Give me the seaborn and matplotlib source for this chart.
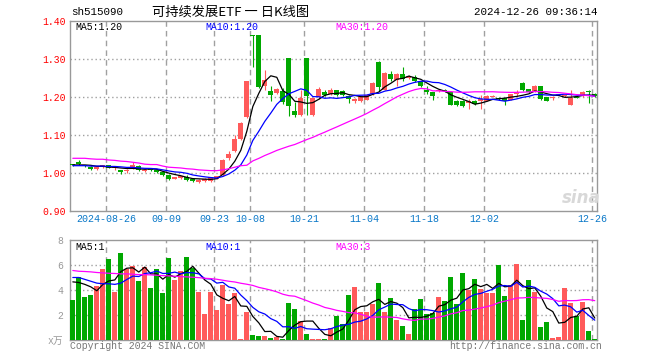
import numpy as np
import pandas as pd
import matplotlib
matplotlib.use('Agg')
import matplotlib.pyplot as plt
import seaborn as sns

# 日K数据 (2024-08-16 ~ 2024-12-26)
open_ = [1.023, 1.031, 1.022, 1.016, 1.012, 1.016, 1.021, 1.013, 1.009, 1.005,
         1.014, 1.020, 1.006, 1.010, 1.010, 1.003, 0.996, 0.986, 0.987, 0.990,
         0.985, 0.977, 0.979, 0.981, 0.986, 0.996, 1.040, 1.058, 1.090, 1.147,
         1.365, 1.365, 1.229, 1.216, 1.211, 1.217, 1.303, 1.164, 1.153, 1.303,
         1.153, 1.202, 1.215, 1.209, 1.218, 1.216, 1.203, 1.191, 1.189, 1.194,
         1.209, 1.293, 1.220, 1.261, 1.246, 1.261, 1.250, 1.253, 1.242, 1.220,
         1.213, 1.216, 1.218, 1.213, 1.191, 1.191, 1.186, 1.191, 1.189, 1.191,
         1.202, 1.199, 1.198, 1.194, 1.210, 1.238, 1.222, 1.216, 1.229, 1.200,
         1.198, 1.207, 1.203, 1.181, 1.201, 1.203, 1.214, 1.209]
close = [1.021, 1.025, 1.019, 1.011, 1.016, 1.021, 1.015, 1.015, 1.003, 1.009,
         1.023, 1.009, 1.009, 1.008, 1.004, 0.996, 0.986, 0.990, 0.992, 0.983,
         0.979, 0.983, 0.986, 0.989, 0.992, 1.036, 1.052, 1.090, 1.132, 1.242,
         1.362, 1.226, 1.246, 1.207, 1.222, 1.187, 1.178, 1.154, 1.198, 1.203,
         1.197, 1.222, 1.206, 1.219, 1.207, 1.207, 1.196, 1.196, 1.202, 1.207,
         1.238, 1.226, 1.264, 1.249, 1.261, 1.249, 1.256, 1.242, 1.229, 1.213,
         1.204, 1.218, 1.217, 1.181, 1.181, 1.176, 1.189, 1.182, 1.196, 1.203,
         1.203, 1.196, 1.191, 1.209, 1.213, 1.218, 1.214, 1.229, 1.196, 1.191,
         1.199, 1.209, 1.205, 1.198, 1.199, 1.214, 1.213, 1.204]
high = [1.024, 1.034, 1.023, 1.018, 1.018, 1.023, 1.022, 1.016, 1.010, 1.011,
        1.029, 1.021, 1.011, 1.012, 1.011, 1.004, 0.997, 0.991, 0.994, 0.995,
        0.987, 0.985, 0.988, 0.991, 0.994, 1.037, 1.058, 1.100, 1.135, 1.243,
        1.365, 1.365, 1.273, 1.229, 1.225, 1.225, 1.303, 1.188, 1.219, 1.303,
        1.199, 1.228, 1.218, 1.225, 1.220, 1.220, 1.205, 1.198, 1.204, 1.210,
        1.240, 1.296, 1.266, 1.270, 1.263, 1.279, 1.259, 1.258, 1.244, 1.231,
        1.214, 1.222, 1.221, 1.215, 1.192, 1.192, 1.195, 1.192, 1.207, 1.207,
        1.205, 1.200, 1.199, 1.210, 1.220, 1.240, 1.223, 1.232, 1.230, 1.201,
        1.203, 1.210, 1.207, 1.218, 1.203, 1.216, 1.220, 1.211]
low = [1.019, 1.021, 1.017, 1.009, 1.010, 1.014, 1.013, 1.008, 0.999, 1.002,
       1.012, 1.006, 1.004, 1.005, 1.001, 0.994, 0.983, 0.985, 0.985, 0.979,
       0.977, 0.974, 0.976, 0.978, 0.984, 0.994, 1.036, 1.056, 1.088, 1.145,
       1.280, 1.225, 1.218, 1.190, 1.209, 1.182, 1.150, 1.149, 1.150, 1.154,
       1.150, 1.196, 1.204, 1.206, 1.203, 1.203, 1.186, 1.184, 1.187, 1.192,
       1.207, 1.216, 1.218, 1.242, 1.229, 1.242, 1.248, 1.240, 1.227, 1.210,
       1.194, 1.213, 1.214, 1.179, 1.177, 1.174, 1.170, 1.180, 1.168, 1.189,
       1.200, 1.192, 1.181, 1.192, 1.204, 1.216, 1.212, 1.214, 1.194, 1.189,
       1.194, 1.205, 1.202, 1.179, 1.197, 1.201, 1.185, 1.202]
# 成交量 (万)
volume = [3.22, 5.05, 3.46, 3.62, 4.35, 5.72, 6.47, 3.87, 6.93, 5.72,
          5.90, 4.75, 5.88, 4.19, 5.72, 3.79, 6.60, 4.83, 5.56, 6.68,
          5.80, 3.87, 2.09, 3.87, 2.42, 4.43, 2.90, 3.79, 0.08, 2.26,
          0.40, 0.32, 0.32, 0.16, 0.24, 0.08, 2.98, 2.50, 1.53, 0.48,
          0.08, 0.08, 0.08, 0.97, 1.96, 1.29, 3.62, 4.27, 2.25, 2.25,
          2.90, 4.59, 2.25, 3.38, 1.61, 1.13, 0.48, 2.50, 3.30, 2.09,
          2.17, 3.46, 3.14, 5.07, 2.90, 5.40, 4.03, 4.91, 4.11, 3.79,
          3.79, 6.04, 3.54, 4.43, 6.12, 1.61, 4.83, 3.87, 1.05, 1.45,
          0.16, 0.24, 4.19, 2.98, 1.93, 3.06, 0.72, 0.08]

# 均线在窗口开头(需要图外历史数据)的值, 直接从图上读
ma5_head = [1.022, 1.022, 1.022, 1.021]
ma10_head = [1.020, 1.020, 1.020, 1.019, 1.019, 1.019, 1.018, 1.018, 1.017]
ma30_head = [1.0395, 1.0395, 1.0395, 1.038, 1.037, 1.037, 1.035, 1.034, 1.032, 1.031,
             1.029, 1.027, 1.024, 1.023, 1.023, 1.019, 1.016, 1.015, 1.014, 1.012,
             1.011, 1.009, 1.008, 1.007, 1.007, 1.009, 1.012, 1.016, 1.020]
vma5_head = [4.65, 4.60, 4.45, 4.25]
vma10_head = [5.00, 5.00, 4.85, 4.70, 4.55, 4.50, 4.50, 4.45, 4.55]
vma30_head = [5.56, 5.50, 5.48, 5.45, 5.40, 5.37, 5.34, 5.32, 5.29, 5.29,
              5.26, 5.23, 5.23, 5.21, 5.18, 5.15, 5.13, 5.10, 5.07, 5.05,
              5.02, 4.99, 4.94, 4.91, 4.86, 4.78, 4.70, 4.64, 4.54]

holidays = ['2024-09-16', '2024-09-17', '2024-10-01', '2024-10-02',
            '2024-10-03', '2024-10-04', '2024-10-07']
tick_dates = ['2024-08-26', '2024-09-09', '2024-09-23', '2024-10-08', '2024-10-21',
              '2024-11-04', '2024-11-18', '2024-12-02', '2024-12-26']

RED = '#ff5a5a'
GREEN = '#00a800'
GRIDC = '#a0a0a0'


def moving_average(values, n, head):
    ma = pd.Series(values).rolling(n).mean().to_numpy()
    ma[:len(head)] = head
    return ma


days = pd.bdate_range('2024-08-16', '2024-12-26')
days = days[~days.isin(pd.to_datetime(holidays))]
n = len(close)
x = np.arange(n)
tick_idx = np.array([days.get_loc(pd.Timestamp(d)) for d in tick_dates], dtype=float)
tick_labels = [tick_dates[0]] + [d[5:] for d in tick_dates[1:]]

o = np.array(open_)
c = np.array(close)
up = c >= o
colors = np.where(up, RED, GREEN)

sns.set_style('white')
plt.rcParams['font.family'] = ['Liberation Mono', 'Noto Sans CJK SC']

W, H = 660, 360
fig = plt.figure(figsize=(6.6, 3.6), dpi=100)


def box(l, t, r, b):
    return [l / W, 1 - b / H, (r - l) / W, (b - t) / H]


ax = fig.add_axes(box(70.3, 21.3, 597.3, 211.3))
axv = fig.add_axes(box(70.3, 240, 597.3, 340))

ax.set_xlim(-0.42, n - 1 + 0.42)
axv.set_xlim(-0.42, n - 1 + 0.42)
ax.set_ylim(0.9, 1.4)
axv.set_ylim(0, 8)

# 网格: 竖向虚线(日期), 横向点线
for a, levels, lo, hi in [(ax, [1.0, 1.1, 1.2, 1.3], 0.9, 1.4),
                          (axv, [2, 4, 6], 0, 8)]:
    a.vlines(tick_idx - 0.42, lo, hi, colors=GRIDC, linewidths=1,
             linestyles=(0, (4, 3)), zorder=2)
    a.hlines(levels, -0.42, n - 1 + 0.42, colors=GRIDC, linewidths=1,
             linestyles=(0, (1, 2)), zorder=2)

# K线
ax.vlines(x, low, high, colors=colors, lw=0.8, zorder=3)
body_h = np.maximum(np.abs(c - o), 0.0026)
ax.bar(x, body_h, bottom=np.minimum(o, c), width=0.83, color=colors, lw=0, zorder=3)

# 均线
for ma, col in [(moving_average(close, 5, ma5_head), 'black'),
                (moving_average(close, 10, ma10_head), '#0000ff'),
                (moving_average(close, 30, ma30_head), '#ff00ff')]:
    sns.lineplot(x=x, y=ma, ax=ax, color=col, lw=0.9, zorder=4, legend=False)

# 成交量
axv.bar(x, volume, width=0.83, color=colors, lw=0, zorder=3)
for ma, col in [(moving_average(volume, 5, vma5_head), 'black'),
                (moving_average(volume, 10, vma10_head), '#0000ff'),
                (moving_average(volume, 30, vma30_head), '#ff00ff')]:
    sns.lineplot(x=x, y=ma, ax=axv, color=col, lw=0.9, zorder=4, legend=False)

# 坐标轴
for a in (ax, axv):
    a.set_xlim(-0.42, n - 1 + 0.42)
    for s in a.spines.values():
        s.set_color('#999999')
        s.set_linewidth(1)
    a.tick_params(length=0)
    a.set_xlabel('')
    a.set_ylabel('')

ax.set_ylim(0.9, 1.4)
yt = [0.9, 1.0, 1.1, 1.2, 1.3, 1.4]
ax.set_yticks(yt, [f'{v:.2f}' for v in yt])
ax.tick_params(axis='y', colors='red', labelsize=7, pad=3)
ax.set_xticks(tick_idx - 0.42, tick_labels)
ax.tick_params(axis='x', colors='#0a78c8', labelsize=7.2, pad=2)

axv.set_ylim(0, 8)
axv.set_yticks([0, 2, 4, 6, 8], ['x万', '2', '4', '6', '8'])
axv.tick_params(axis='y', colors='#999999', labelsize=7, pad=5)
axv.set_xticks([])

# 文字
def ftext(px, py, s, **kw):
    fig.text(px / W, 1 - py / H, s, va='center', **kw)


ftext(71, 12, 'sh515090', fontsize=7.8, color='black')
ftext(231, 12, '可持续发展ETF 一 日K线图', fontsize=9.5, ha='center',
      family=['Noto Sans CJK SC', 'DejaVu Sans'], color='black')
ftext(598, 12, '2024-12-26 09:36:14', fontsize=7.8, ha='right', color='black')

ftext(75, 26.5, 'MA5:1.20', fontsize=7.1, color='black')
ftext(205, 26.5, 'MA10:1.20', fontsize=7.1, color='#0000ff')
ftext(335, 26.5, 'MA30:1.20', fontsize=7.1, color='#ff00ff')
ftext(75, 246.5, 'MA5:1', fontsize=7.1, color='black')
ftext(205, 246.5, 'MA10:1', fontsize=7.1, color='#0000ff')
ftext(335, 246.5, 'MA30:3', fontsize=7.1, color='#ff00ff')

ftext(70, 346, 'Copyright 2024 SINA.COM', fontsize=7.1, color='#777777')
ftext(602, 346, 'http://finance.sina.com.cn', fontsize=7.1, ha='right', color='#777777')
ftext(581, 198, 'sina', fontsize=12, ha='center', color='#d8d8d8',
      style='italic', weight='bold', family=['DejaVu Sans'])

fig.savefig('out.png', dpi=100)
